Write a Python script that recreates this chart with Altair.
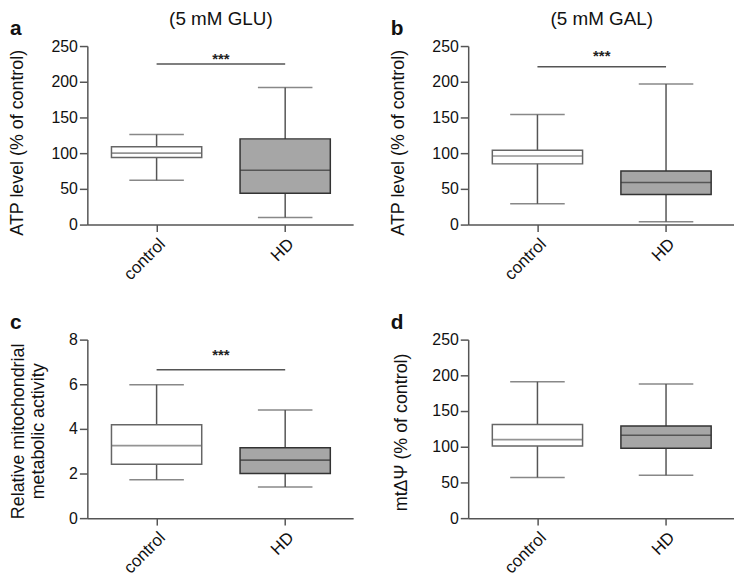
import json
import altair as alt
import pandas as pd

categories = ["control", "HD"]

# Box-plot statistics: [control, HD]
a_low, a_q1, a_med, a_q3, a_high = [62, 10], [94, 44], [100, 76], [109, 120], [126, 192]
b_low, b_q1, b_med, b_q3, b_high = [29, 4], [85, 42], [96, 59], [104, 75], [154, 197]
c_low, c_q1, c_med, c_q3, c_high = [1.72, 1.40], [2.42, 2.00], [3.25, 2.60], [4.18, 3.15], [5.98, 4.85]
d_low, d_q1, d_med, d_q3, d_high = [57, 60], [101, 98], [110, 116], [131, 129], [191, 188]

# significance bars (y of bar, y of stars)
a_sig, a_star = 225, 232
b_sig, b_star = 221, 236
c_sig, c_star = 6.65, 7.3

titles_top = ["(5 mM GLU)", "(5 mM GAL)"]
letters = ["a", "b", "c", "d"]
y_titles = ["ATP level (% of control)", "ATP level (% of control)",
            ["Relative mitochondrial", "metabolic activity"], "mtΔΨ (% of control)"]

FONT = "Liberation Sans"
FILLS = ["#ffffff", "#a6a6a6"]
STROKES = ["#666666", "#333333"]
W, H = 268, 180


def panel(low, q1, med, q3, high, ymax, ystep, ytitle, title_y, title_pad, letter,
          top_title=None, sig=None, star=None):
    idx = list(range(len(categories)))
    df = pd.DataFrame({"group": categories, "idx": idx, "low": low, "q1": q1,
                       "med": med, "q3": q3, "high": high})
    xscale = alt.Scale(domain=[-0.5, 1.49], nice=False, zero=False)
    xaxis = alt.Axis(values=idx, labelExpr=f"{json.dumps(categories)}[datum.value]",
                     labelAngle=-45, title=None, grid=False, tickSize=7,
                     labelPadding=4, labelFontSize=17)
    yvals = [ystep * i for i in range(int(round(ymax / ystep)) + 1)]
    yscale = alt.Scale(domain=[0, ymax], nice=False, zero=True)
    yaxis = alt.Axis(values=yvals, title=ytitle, grid=False, tickSize=8,
                     labelPadding=2, labelFontSize=16, titleFontSize=18,
                     titlePadding=title_pad, titleY=title_y, titleLineHeight=20,
                     format="d")
    X = alt.X("idx:Q", scale=xscale, axis=xaxis)
    fill = alt.Fill("group:N", scale=alt.Scale(domain=categories, range=FILLS), legend=None)
    stroke = alt.Stroke("group:N", scale=alt.Scale(domain=categories, range=STROKES), legend=None)
    col = alt.Color("group:N", scale=alt.Scale(domain=categories, range=STROKES), legend=None)
    base = alt.Chart(df)

    whisk = base.mark_rule(color="#555555", strokeWidth=1.5).encode(
        x=X, y=alt.Y("low:Q", scale=yscale, axis=yaxis), y2="high:Q")
    box = base.mark_bar(size=91, strokeWidth=1.5).encode(
        x=X, y=alt.Y("q1:Q", scale=yscale, axis=yaxis), y2="q3:Q", fill=fill, stroke=stroke)
    median = base.mark_tick(orient="horizontal", size=91, thickness=1.6).encode(
        x=X, y=alt.Y("med:Q", scale=yscale, axis=yaxis), color=col)
    cap_lo = base.mark_tick(orient="horizontal", size=55, thickness=1.5, color="#555555").encode(
        x=X, y=alt.Y("low:Q", scale=yscale, axis=yaxis))
    cap_hi = base.mark_tick(orient="horizontal", size=55, thickness=1.5, color="#555555").encode(
        x=X, y=alt.Y("high:Q", scale=yscale, axis=yaxis))
    layers = [whisk, box, median, cap_lo, cap_hi]

    mid = sum(idx) / len(idx)
    if sig is not None:
        sdf = pd.DataFrame({"x1": [categories.index("control")], "x2": [categories.index("HD")],
                            "y": [sig], "ys": [star], "label": ["***"]})
        sdf["xm"] = (sdf["x1"] + sdf["x2"]) / 2
        sb = alt.Chart(sdf)
        layers.append(sb.mark_rule(color="#555555", strokeWidth=1.5).encode(
            x=alt.X("x1:Q", scale=xscale, axis=xaxis), x2="x2:Q",
            y=alt.Y("y:Q", scale=yscale, axis=yaxis)))
        layers.append(sb.mark_text(font=FONT, fontSize=15, fontWeight="bold", color="#222222",
                                   baseline="middle").encode(
            x=alt.X("xm:Q", scale=xscale, axis=xaxis),
            y=alt.Y("ys:Q", scale=yscale, axis=yaxis), text="label:N"))
    if top_title is not None:
        tdf = pd.DataFrame({"xm": [mid], "t": [top_title]})
        layers.append(alt.Chart(tdf).mark_text(font=FONT, fontSize=19, color="#111111",
                                               baseline="alphabetic").encode(
            x=alt.X("xm:Q", scale=xscale, axis=xaxis), y=alt.value(-21), text="t:N"))
    ldf = pd.DataFrame({"t": [letter]})
    layers.append(alt.Chart(ldf).mark_text(font=FONT, fontSize=21, fontWeight="bold",
                                           color="#111111", align="left",
                                           baseline="alphabetic").encode(
        x=alt.value(-78), y=alt.value(-11), text="t:N"))
    return alt.layer(*layers).properties(width=W, height=H)


pa = panel(a_low, a_q1, a_med, a_q3, a_high, 250, 50, y_titles[0], 97, 25, letters[0],
           titles_top[0], a_sig, a_star)
pb = panel(b_low, b_q1, b_med, b_q3, b_high, 250, 50, y_titles[1], 97, 25, letters[1],
           titles_top[1], b_sig, b_star)
pc = panel(c_low, c_q1, c_med, c_q3, c_high, 8, 2, y_titles[2], 92, 21, letters[2],
           None, c_sig, c_star)
pd_ = panel(d_low, d_q1, d_med, d_q3, d_high, 250, 50, y_titles[3], 93, 22, letters[3])

chart = alt.concat(
    pa, pb, pc, pd_, columns=2, spacing=116, bounds="flush",
).properties(padding={"left": 0, "top": 0, "right": 0, "bottom": 0}
).configure_view(stroke=None
).configure_axis(labelFont=FONT, titleFont=FONT, labelColor="#111111", titleColor="#111111",
                 domainColor="#555555", tickColor="#555555", domainWidth=1.5, tickWidth=1.5,
                 titleFontWeight="normal")

chart.save("out.html", embed_options={"renderer": "svg", "actions": False})
